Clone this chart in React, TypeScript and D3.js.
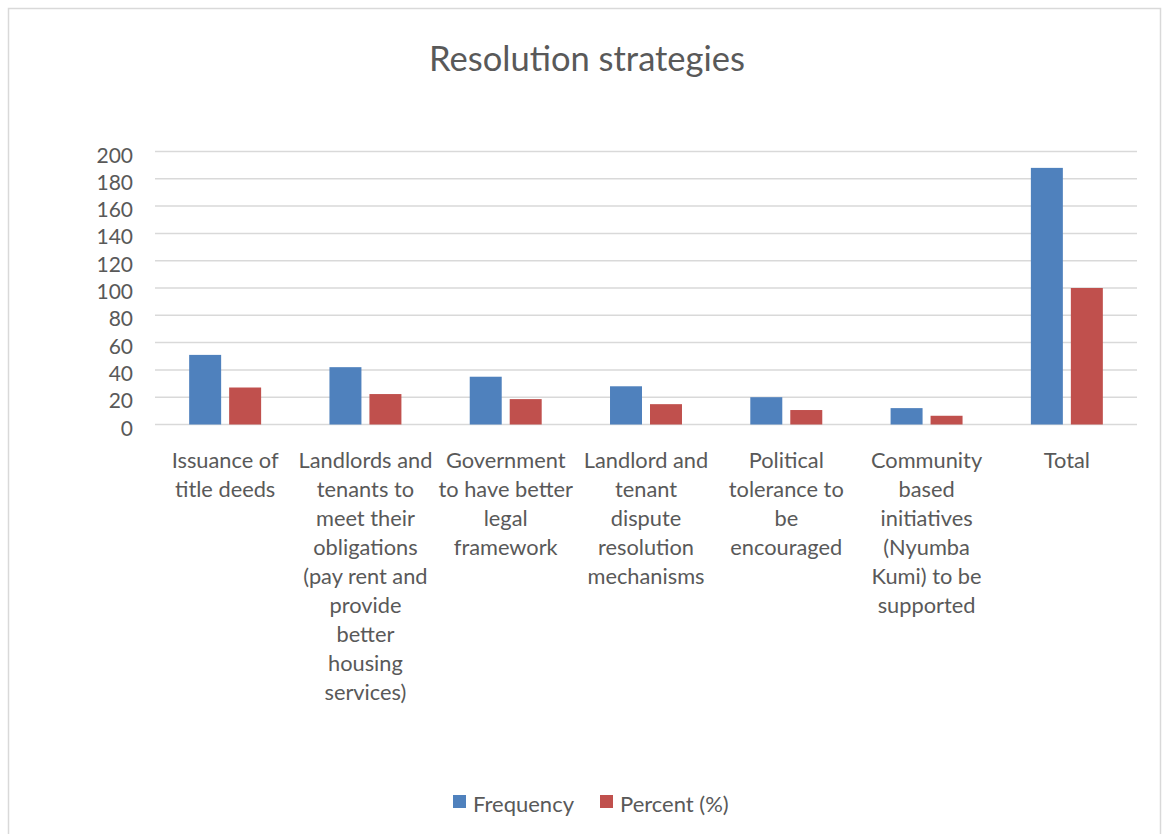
import React from "react";
import * as d3 from "d3";

const categories: string[][] = [
  ["Issuance of", "title deeds"],
  ["Landlords and", "tenants to", "meet their", "obligations", "(pay rent and", "provide", "better", "housing", "services)"],
  ["Government", "to have better", "legal", "framework"],
  ["Landlord and", "tenant", "dispute", "resolution", "mechanisms"],
  ["Political", "tolerance to", "be", "encouraged"],
  ["Community", "based", "initiatives", "(Nyumba", "Kumi) to be", "supported"],
  ["Total"],
];
const frequency = [51, 42, 35, 28, 20, 12, 188];
const percent = [27.1, 22.3, 18.6, 14.9, 10.6, 6.4, 100];
const yTicks = [0, 20, 40, 60, 80, 100, 120, 140, 160, 180, 200];
const seriesNames = ["Frequency", "Percent (%)"];
const colors = ["#4F81BD", "#C0504D"];

const W = 1163;
const H = 834;
const FONT = "Lato, 'Open Sans', sans-serif";
const TXT = "#595959";

export default function App() {
  const left = 155;
  const right = 1137;
  const top = 151.5;
  const bottom = 424.5;
  const idx = categories.map((_, i) => String(i));
  const x0 = d3.scaleBand<string>().domain(idx).range([left, right]).paddingInner(0.487).paddingOuter(0.2435);
  const x1 = d3.scaleBand<string>().domain(["0", "1"]).range([0, x0.bandwidth()]).paddingInner(0.2);
  const y = d3.scaleLinear().domain([0, 200]).range([bottom, top]);
  const series = [frequency, percent];

  return (
    <svg width={W} height={H} style={{ position: "absolute", left: 0, top: 0, display: "block" }} fontFamily={FONT}>
      <rect x={0} y={0} width={W} height={H} fill="#fff" />
      <rect x={8.5} y={8.5} width={1152} height={900} fill="none" stroke="#d9d9d9" strokeWidth={1.5} />
      <text x={587} y={71} textAnchor="middle" fontSize={34.5} fill={TXT}>Resolution strategies</text>
      {yTicks.map((t) => (
        <g key={t}>
          <line x1={left} x2={right} y1={y(t)} y2={y(t)} stroke="#d9d9d9" strokeWidth={1.5} />
          <text x={133} y={y(t) + 11} textAnchor="end" fontSize={21} fill={TXT}>{t}</text>
        </g>
      ))}
      {series.map((vals, s) =>
        vals.map((v, i) => (
          <rect
            key={`${s}-${i}`}
            x={(x0(String(i)) as number) + (x1(String(s)) as number)}
            y={y(v)}
            width={x1.bandwidth()}
            height={bottom - y(v)}
            fill={colors[s]}
          />
        ))
      )}
      {categories.map((lines, i) => (
        <text key={i} textAnchor="middle" fontSize={21.8} fill={TXT}>
          {lines.map((ln, j) => (
            <tspan key={j} x={(x0(String(i)) as number) + x0.bandwidth() / 2} y={468 + j * 29}>{ln}</tspan>
          ))}
        </text>
      ))}
      {seriesNames.map((n, s) => {
        const lx = s === 0 ? 453 : 600;
        return (
          <g key={n}>
            <rect x={lx} y={795} width={13} height={13} fill={colors[s]} />
            <text x={lx + 20} y={812} fontSize={22} fill={TXT}>{n}</text>
          </g>
        );
      })}
    </svg>
  );
}
